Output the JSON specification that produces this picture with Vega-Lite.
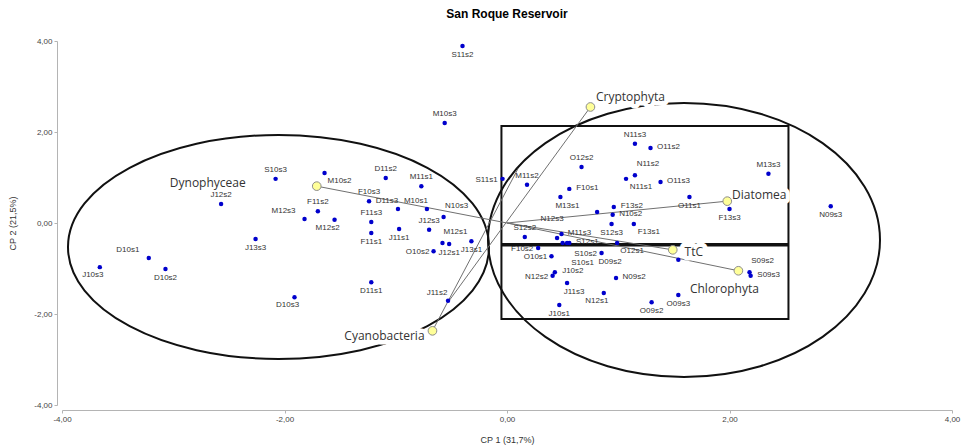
{
  "$schema": "https://vega.github.io/schema/vega-lite/v6.json",
  "width": 890,
  "height": 364,
  "autosize": {"type": "none"},
  "padding": {"left": 62, "top": 41, "right": 10, "bottom": 43},
  "title": {"text": "San Roque Reservoir", "font": "Liberation Sans", "fontSize": 12, "fontWeight": "bold", "color": "#000", "anchor": "middle", "offset": 16},
  "datasets": {
    "samples": [
      {"name": "S11s2", "x": -0.40, "y": 3.89},
      {"name": "M10s3", "x": -0.56, "y": 2.20},
      {"name": "S10s3", "x": -2.08, "y": 0.97},
      {"name": "M10s2", "x": -1.64, "y": 1.10},
      {"name": "D11s2", "x": -1.09, "y": 0.99},
      {"name": "M11s1", "x": -0.77, "y": 0.81},
      {"name": "S11s1", "x": -0.04, "y": 0.97},
      {"name": "J12s2", "x": -2.57, "y": 0.42},
      {"name": "F10s3", "x": -1.24, "y": 0.48},
      {"name": "F11s2", "x": -1.70, "y": 0.26},
      {"name": "D11s3", "x": -0.98, "y": 0.31},
      {"name": "M10s1", "x": -0.72, "y": 0.31},
      {"name": "N10s3", "x": -0.57, "y": 0.13},
      {"name": "M12s3", "x": -1.82, "y": 0.09},
      {"name": "M12s2", "x": -1.55, "y": 0.07},
      {"name": "F11s3", "x": -1.22, "y": 0.02},
      {"name": "J12s3", "x": -0.70, "y": -0.15},
      {"name": "F11s1", "x": -1.22, "y": -0.22},
      {"name": "J11s1", "x": -0.97, "y": -0.13},
      {"name": "M12s1", "x": -0.58, "y": -0.44},
      {"name": "J12s1", "x": -0.52, "y": -0.46},
      {"name": "O10s2", "x": -0.66, "y": -0.62},
      {"name": "J13s1", "x": -0.32, "y": -0.40},
      {"name": "J13s3", "x": -2.26, "y": -0.35},
      {"name": "D10s1", "x": -3.22, "y": -0.77},
      {"name": "J10s3", "x": -3.66, "y": -0.97},
      {"name": "D10s2", "x": -3.07, "y": -1.01},
      {"name": "D11s1", "x": -1.22, "y": -1.30},
      {"name": "D10s3", "x": -1.91, "y": -1.63},
      {"name": "J11s2", "x": -0.53, "y": -1.71},
      {"name": "N11s3", "x": 1.15, "y": 1.74},
      {"name": "O11s2", "x": 1.29, "y": 1.65},
      {"name": "O12s2", "x": 0.67, "y": 1.23},
      {"name": "N11s2", "x": 1.15, "y": 1.05},
      {"name": "N11s1", "x": 1.07, "y": 0.97},
      {"name": "O11s3", "x": 1.38, "y": 0.90},
      {"name": "M13s3", "x": 2.35, "y": 1.08},
      {"name": "M11s2", "x": 0.18, "y": 0.84},
      {"name": "F10s1", "x": 0.56, "y": 0.75},
      {"name": "M13s1", "x": 0.48, "y": 0.57},
      {"name": "F13s2", "x": 0.96, "y": 0.35},
      {"name": "N10s2", "x": 0.95, "y": 0.18},
      {"name": "N12s3", "x": 0.81, "y": 0.24},
      {"name": "O11s1", "x": 1.64, "y": 0.57},
      {"name": "F13s3", "x": 2.00, "y": 0.31},
      {"name": "N09s3", "x": 2.91, "y": 0.37},
      {"name": "S12s2", "x": 0.16, "y": -0.31},
      {"name": "S12s3", "x": 0.94, "y": -0.02},
      {"name": "F13s1", "x": 1.14, "y": -0.02},
      {"name": "M11s3", "x": 0.49, "y": -0.24},
      {"name": "S12s1", "x": 0.56, "y": -0.44},
      {"name": "S10s1", "x": 0.50, "y": -0.44},
      {"name": "D09s2", "x": 0.54, "y": -0.44},
      {"name": "", "x": 0.45, "y": -0.33},
      {"name": "F10s2", "x": 0.28, "y": -0.55},
      {"name": "O10s1", "x": 0.40, "y": -0.73},
      {"name": "S10s2", "x": 0.85, "y": -0.66},
      {"name": "O12s1", "x": 0.99, "y": -0.44},
      {"name": "", "x": 1.54, "y": -0.81},
      {"name": "S09s2", "x": 2.18, "y": -1.08},
      {"name": "S09s3", "x": 2.19, "y": -1.16},
      {"name": "J10s2", "x": 0.43, "y": -1.08},
      {"name": "N12s2", "x": 0.41, "y": -1.16},
      {"name": "N09s2", "x": 0.98, "y": -1.21},
      {"name": "J11s3", "x": 0.54, "y": -1.32},
      {"name": "N12s1", "x": 0.87, "y": -1.54},
      {"name": "O09s2", "x": 1.30, "y": -1.74},
      {"name": "O09s3", "x": 1.54, "y": -1.58},
      {"name": "J10s1", "x": 0.47, "y": -1.80}
    ],
    "loadings": [
      {"name": "Dynophyceae", "x": -1.71, "y": 0.81, "x0": 0, "y0": 0},
      {"name": "Cryptophyta", "x": 0.75, "y": 2.55, "x0": -0.53, "y0": -1.74},
      {"name": "Diatomea", "x": 1.98, "y": 0.48, "x0": 0, "y0": 0},
      {"name": "TtC", "x": 1.49, "y": -0.59, "x0": 0, "y0": 0},
      {"name": "Chlorophyta", "x": 2.08, "y": -1.05, "x0": 0, "y0": 0},
      {"name": "Cyanobacteria", "x": -0.67, "y": -2.37, "x0": 0.10, "y0": 1.20}
    ],
    "ellipses": [
      {"id": "west", "x": -2.054, "y": -0.527},
      {"id": "east", "x": 1.591, "y": -0.374}
    ],
    "boxes": [
      {"x": -0.05, "x2": 2.53, "y": 2.13, "y2": -2.11}
    ],
    "divider": [
      {"x": -0.05, "x2": 2.53, "y": -0.48}
    ]
  },
  "encoding": {
    "x": {
      "field": "x", "type": "quantitative",
      "scale": {"domain": [-4, 4], "nice": false, "zero": false},
      "axis": {"title": "CP 1 (31,7%)", "values": [-4, -2, 0, 2, 4], "format": ".2f", "titlePadding": 12}
    },
    "y": {
      "field": "y", "type": "quantitative",
      "scale": {"domain": [-4, 4], "nice": false, "zero": false},
      "axis": {"title": "CP 2 (21,5%)", "values": [-4, -2, 0, 2, 4], "format": ".2f", "titlePadding": 16}
    }
  },
  "layer": [
    {
      "data": {"name": "ellipses"},
      "transform": [{"filter": "datum.id === 'west'"}],
      "mark": {"type": "point", "shape": "M1,0C1,0.2938,0.5523,0.532,0,0.532C-0.5523,0.532,-1,0.2938,-1,0C-1,-0.2938,-0.5523,-0.532,0,-0.532C0.5523,-0.532,1,-0.2938,1,0Z", "size": 177241, "filled": false, "stroke": "#111", "strokeWidth": 2, "opacity": 1}
    },
    {
      "data": {"name": "ellipses"},
      "transform": [{"filter": "datum.id === 'east'"}],
      "mark": {"type": "point", "shape": "M1,0C1,0.386,0.5523,0.699,0,0.699C-0.5523,0.699,-1,0.386,-1,0C-1,-0.386,-0.5523,-0.699,0,-0.699C0.5523,-0.699,1,-0.386,1,0Z", "size": 153664, "filled": false, "stroke": "#111", "strokeWidth": 2, "opacity": 1}
    },
    {
      "data": {"name": "boxes"},
      "mark": {"type": "rect", "filled": false, "color": "#111", "strokeWidth": 2},
      "encoding": {"x2": {"field": "x2"}, "y2": {"field": "y2"}}
    },
    {
      "data": {"name": "divider"},
      "mark": {"type": "rule", "color": "#111", "strokeWidth": 3.5},
      "encoding": {"x2": {"field": "x2"}}
    },
    {
      "data": {"name": "loadings"},
      "mark": {"type": "rule", "color": "#707070", "strokeWidth": 1},
      "encoding": {"x2": {"field": "x0"}, "y2": {"field": "y0"}}
    },
    {
      "data": {"name": "loadings"},
      "transform": [{"filter": "datum.name === 'Dynophyceae'"}],
      "mark": {"type": "text", "font": "Open Sans", "fontSize": 12, "dx": -109, "dy": -3, "fill": "white", "stroke": "white", "strokeWidth": 9, "strokeJoin": "round"},
      "encoding": {"text": {"field": "name"}}
    },
    {
      "data": {"name": "loadings"},
      "transform": [{"filter": "datum.name === 'Cryptophyta'"}],
      "mark": {"type": "text", "font": "Open Sans", "fontSize": 12, "dx": 40, "dy": -10, "fill": "white", "stroke": "white", "strokeWidth": 9, "strokeJoin": "round"},
      "encoding": {"text": {"field": "name"}}
    },
    {
      "data": {"name": "loadings"},
      "transform": [{"filter": "datum.name === 'Diatomea'"}],
      "mark": {"type": "text", "font": "Open Sans", "fontSize": 12, "dx": 32, "dy": -6, "fill": "white", "stroke": "white", "strokeWidth": 9, "strokeJoin": "round"},
      "encoding": {"text": {"field": "name"}}
    },
    {
      "data": {"name": "loadings"},
      "transform": [{"filter": "datum.name === 'TtC'"}],
      "mark": {"type": "text", "font": "Open Sans", "fontSize": 12, "dx": 21, "dy": 2, "fill": "white", "stroke": "white", "strokeWidth": 9, "strokeJoin": "round"},
      "encoding": {"text": {"field": "name"}}
    },
    {
      "data": {"name": "loadings"},
      "transform": [{"filter": "datum.name === 'Chlorophyta'"}],
      "mark": {"type": "text", "font": "Open Sans", "fontSize": 12, "dx": -14, "dy": 18, "fill": "white", "stroke": "white", "strokeWidth": 9, "strokeJoin": "round"},
      "encoding": {"text": {"field": "name"}}
    },
    {
      "data": {"name": "loadings"},
      "transform": [{"filter": "datum.name === 'Cyanobacteria'"}],
      "mark": {"type": "text", "font": "Open Sans", "fontSize": 12, "dx": -48, "dy": 5, "fill": "white", "stroke": "white", "strokeWidth": 9, "strokeJoin": "round"},
      "encoding": {"text": {"field": "name"}}
    },
    {
      "data": {"name": "samples"},
      "mark": {"type": "point", "shape": "circle", "filled": true, "size": 20, "color": "#0000cc", "opacity": 1}
    },
    {
      "data": {"name": "samples"},
      "transform": [{"filter": "indexof(['M10s3','S10s3','D11s2','M11s1','J12s2','F10s3','F11s2','F11s3','J12s3','N11s3','O12s2','M13s3','M11s2','S12s2'], datum.name) >= 0"}],
      "mark": {"type": "text", "font": "Liberation Sans", "fontSize": 8, "color": "#333", "dy": -9},
      "encoding": {"text": {"field": "name"}}
    },
    {
      "data": {"name": "samples"},
      "transform": [{"filter": "indexof(['S11s2','F11s1','J11s1','J12s1','J13s1','J13s3','D10s2','D11s1','O11s1','F13s3','N09s3','S12s3','O09s2','O09s3','J10s1'], datum.name) >= 0"}],
      "mark": {"type": "text", "font": "Liberation Sans", "fontSize": 8, "color": "#333", "dy": 9},
      "encoding": {"text": {"field": "name"}}
    },
    {
      "data": {"name": "samples"},
      "transform": [{"filter": "indexof(['M12s2','D10s3','J10s3','N12s1'], datum.name) >= 0"}],
      "mark": {"type": "text", "font": "Liberation Sans", "fontSize": 8, "color": "#333", "dx": -7, "dy": 8},
      "encoding": {"text": {"field": "name"}}
    },
    {
      "data": {"name": "samples"},
      "transform": [{"filter": "indexof(['M13s1','J11s3'], datum.name) >= 0"}],
      "mark": {"type": "text", "font": "Liberation Sans", "fontSize": 8, "color": "#333", "dx": 7, "dy": 9},
      "encoding": {"text": {"field": "name"}}
    },
    {
      "data": {"name": "samples"},
      "transform": [{"filter": "indexof(['D11s3','M10s1','J11s2'], datum.name) >= 0"}],
      "mark": {"type": "text", "font": "Liberation Sans", "fontSize": 8, "color": "#333", "dx": -11, "dy": -8},
      "encoding": {"text": {"field": "name"}}
    },
    {
      "data": {"name": "samples"},
      "transform": [{"filter": "indexof(['N10s3','M12s1','S09s2','N11s2'], datum.name) >= 0"}],
      "mark": {"type": "text", "font": "Liberation Sans", "fontSize": 8, "color": "#333", "dx": 13, "dy": -11},
      "encoding": {"text": {"field": "name"}}
    },
    {
      "data": {"name": "samples"},
      "transform": [{"filter": "indexof(['O11s2','O11s3','F10s1','N10s2','M11s3','S12s1','S09s3','N09s2','J10s2','F13s2'], datum.name) >= 0"}],
      "mark": {"type": "text", "font": "Liberation Sans", "fontSize": 8, "color": "#333", "dx": 18, "dy": -1},
      "encoding": {"text": {"field": "name"}}
    },
    {
      "data": {"name": "samples"},
      "transform": [{"filter": "indexof(['M10s2','F13s1','O12s1','N11s1'], datum.name) >= 0"}],
      "mark": {"type": "text", "font": "Liberation Sans", "fontSize": 8, "color": "#333", "dx": 15, "dy": 8},
      "encoding": {"text": {"field": "name"}}
    },
    {
      "data": {"name": "samples"},
      "transform": [{"filter": "indexof(['S11s1','O10s2','F10s2','S10s2','N12s2','O10s1'], datum.name) >= 0"}],
      "mark": {"type": "text", "font": "Liberation Sans", "fontSize": 8, "color": "#333", "dx": -16, "dy": 1},
      "encoding": {"text": {"field": "name"}}
    },
    {
      "data": {"name": "samples"},
      "transform": [{"filter": "indexof(['D10s1','M12s3'], datum.name) >= 0"}],
      "mark": {"type": "text", "font": "Liberation Sans", "fontSize": 8, "color": "#333", "dx": -21, "dy": -8},
      "encoding": {"text": {"field": "name"}}
    },
    {
      "data": {"name": "samples"},
      "transform": [{"filter": "datum.name === 'N12s3'"}],
      "mark": {"type": "text", "font": "Liberation Sans", "fontSize": 8, "color": "#333", "dx": -45, "dy": 7},
      "encoding": {"text": {"field": "name"}}
    },
    {
      "data": {"name": "samples"},
      "transform": [{"filter": "datum.name === 'S10s1'"}],
      "mark": {"type": "text", "font": "Liberation Sans", "fontSize": 8, "color": "#333", "dx": 20, "dy": 20},
      "encoding": {"text": {"field": "name"}}
    },
    {
      "data": {"name": "samples"},
      "transform": [{"filter": "datum.name === 'D09s2'"}],
      "mark": {"type": "text", "font": "Liberation Sans", "fontSize": 8, "color": "#333", "dx": 43, "dy": 19},
      "encoding": {"text": {"field": "name"}}
    },
    {
      "data": {"name": "loadings"},
      "mark": {"type": "point", "shape": "circle", "filled": true, "size": 75, "fill": "#ffff99", "stroke": "#8c8c8c", "strokeWidth": 1, "opacity": 1}
    },
    {
      "data": {"name": "loadings"},
      "transform": [{"filter": "datum.name === 'Dynophyceae'"}],
      "mark": {"type": "text", "font": "Open Sans", "fontSize": 12, "dx": -109, "dy": -3, "color": "#333"},
      "encoding": {"text": {"field": "name"}}
    },
    {
      "data": {"name": "loadings"},
      "transform": [{"filter": "datum.name === 'Cryptophyta'"}],
      "mark": {"type": "text", "font": "Open Sans", "fontSize": 12, "dx": 40, "dy": -10, "color": "#333"},
      "encoding": {"text": {"field": "name"}}
    },
    {
      "data": {"name": "loadings"},
      "transform": [{"filter": "datum.name === 'Diatomea'"}],
      "mark": {"type": "text", "font": "Open Sans", "fontSize": 12, "dx": 32, "dy": -6, "color": "#333"},
      "encoding": {"text": {"field": "name"}}
    },
    {
      "data": {"name": "loadings"},
      "transform": [{"filter": "datum.name === 'TtC'"}],
      "mark": {"type": "text", "font": "Open Sans", "fontSize": 12, "dx": 21, "dy": 2, "color": "#333"},
      "encoding": {"text": {"field": "name"}}
    },
    {
      "data": {"name": "loadings"},
      "transform": [{"filter": "datum.name === 'Chlorophyta'"}],
      "mark": {"type": "text", "font": "Open Sans", "fontSize": 12, "dx": -14, "dy": 18, "color": "#333"},
      "encoding": {"text": {"field": "name"}}
    },
    {
      "data": {"name": "loadings"},
      "transform": [{"filter": "datum.name === 'Cyanobacteria'"}],
      "mark": {"type": "text", "font": "Open Sans", "fontSize": 12, "dx": -48, "dy": 5, "color": "#333"},
      "encoding": {"text": {"field": "name"}}
    }
  ],
  "config": {
    "view": {"stroke": null},
    "locale": {"number": {"decimal": ",", "thousands": ".", "grouping": [3], "currency": ["", ""], "minus": "-"}},
    "axis": {
      "grid": false,
      "offset": 5,
      "domainColor": "#b4b4b4",
      "tickColor": "#b4b4b4",
      "tickSize": 3,
      "labelFont": "Liberation Sans",
      "labelFontSize": 8,
      "labelColor": "#444",
      "labelPadding": 2,
      "labelFlush": false,
      "labelOverlap": false,
      "titleFont": "Liberation Sans",
      "titleFontSize": 9,
      "titleFontWeight": "normal",
      "titleColor": "#333"
    }
  }
}
